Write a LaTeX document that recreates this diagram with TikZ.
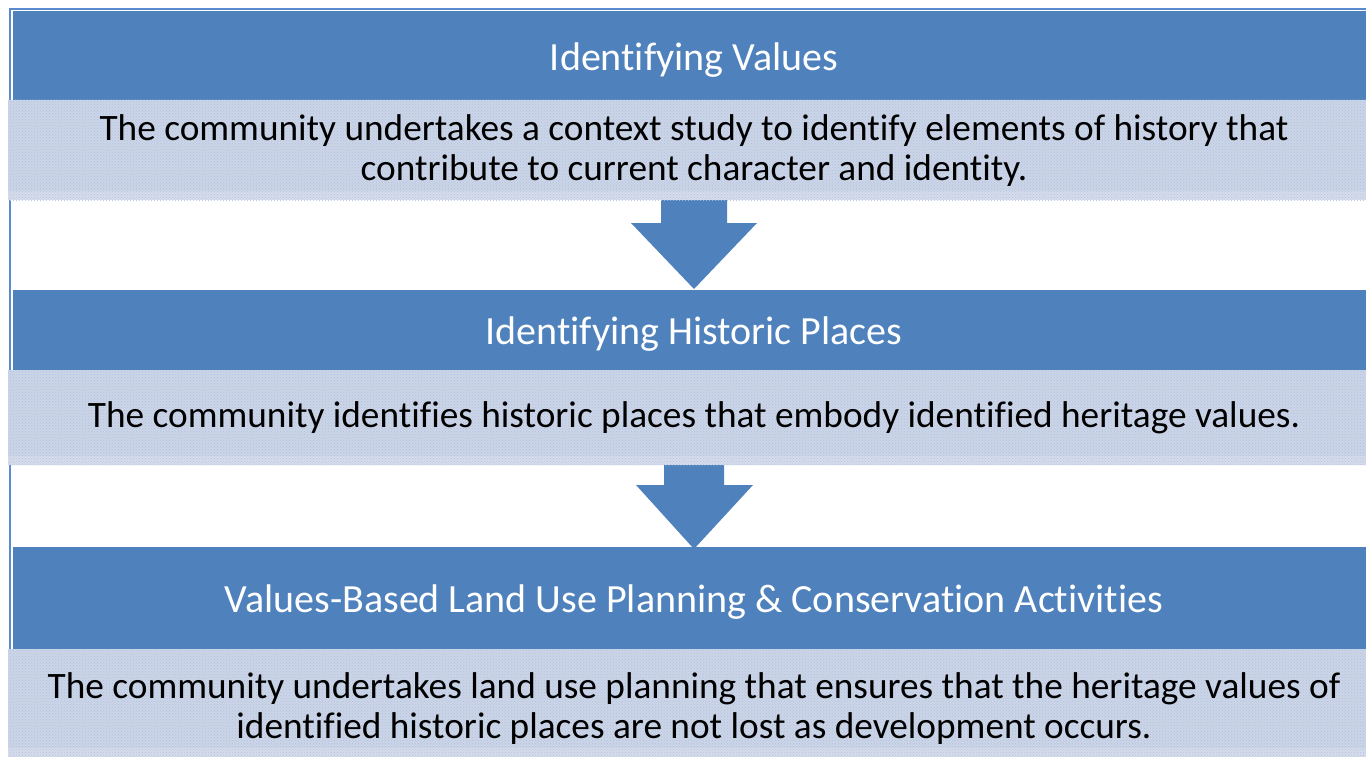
\documentclass[tikz,border=0pt]{standalone}
\usepackage{fontspec}
\setmainfont[Ligatures=NoCommon]{Carlito}
\usetikzlibrary{patterns}
\definecolor{hdr}{HTML}{4F81BD}
\definecolor{bodyc}{HTML}{CCD5E7}
\definecolor{bandc}{HTML}{D6DCEA}
\definecolor{dotc}{HTML}{AFC2E2}
\definecolor{framec}{HTML}{5A8AD0}
\tikzset{
  hdrbox/.style={fill=hdr, draw=none},
  bodybox/.style={fill=bodyc, draw=none},
  bandbox/.style={fill=bandc, draw=none},
  texture/.style={pattern=crosshatch dots, pattern color=dotc},
  hdrtext/.style={text=white, font=\fontsize{40}{46}\selectfont, anchor=center, inner sep=0pt},
  bodytext/.style={text=black, font=\fontsize{37.3}{40}\selectfont, align=center, anchor=center, inner sep=0pt},
  arrowshape/.style={fill=hdr, draw=none}
}
\begin{document}
\begin{tikzpicture}[x=1pt,y=-1pt]
\useasboundingbox (0,0) rectangle (1366,757);
\fill[white] (0,0) rectangle (1366,757);
% frame
\draw[framec, line width=1.5pt] (10,757) -- (10,9) -- (1366,9);
% arrows (behind)
\fill[arrowshape] (661,198) -- (727,198) -- (727,223) -- (757,223) -- (694,289) -- (631,223) -- (661,223) -- cycle;
\fill[arrowshape] (664,463) -- (724,463) -- (724,485) -- (753,485) -- (694,549) -- (636,485) -- (664,485) -- cycle;
% block 1
\fill[hdrbox] (13,11) rectangle (1366,100);
\fill[bodybox] (8,100) rectangle (1366,200);
\fill[bandbox] (8,191) rectangle (1366,200);
\fill[texture] (8,100) rectangle (1366,200);
% block 2
\fill[hdrbox] (13,290) rectangle (1366,370);
\fill[bodybox] (8,370) rectangle (1366,465);
\fill[bandbox] (8,456) rectangle (1366,465);
\fill[texture] (8,370) rectangle (1366,465);
% block 3
\fill[hdrbox] (13,547) rectangle (1366,649);
\fill[bodybox] (8,649) rectangle (1366,757);
\fill[bandbox] (8,748) rectangle (1366,757);
\fill[texture] (8,649) rectangle (1366,757);
% texts
\node[hdrtext] (h1) at (694,60) {Identifying Values};
\node[bodytext] (b1) at (694,151) {The community undertakes a context study to identify elements of history that\\contribute to current character and identity.};
\node[hdrtext] (h2) at (694,334) {Identifying Historic Places};
\node[bodytext] (b2) at (694,418) {The community identifies historic places that embody identified heritage values.};
\node[hdrtext] (h3) at (694,602) {Values-Based Land Use Planning \& Conservation Activities};
\node[bodytext] (b3) at (694,709) {The community undertakes land use planning that ensures that the heritage values of\\identified historic places are not lost as development occurs.};
\end{tikzpicture}
\end{document}
